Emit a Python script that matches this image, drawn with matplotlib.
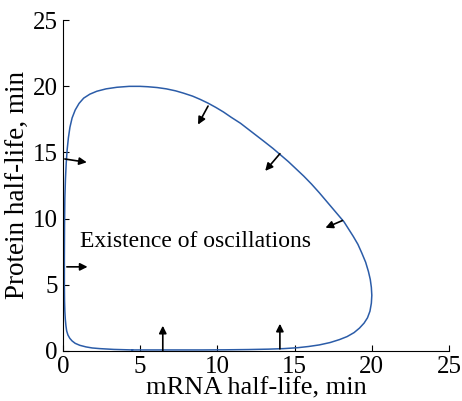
import numpy as np
import matplotlib
matplotlib.use("Agg")
import matplotlib.pyplot as plt

plt.rcParams["font.family"] = ["Liberation Serif", "DejaVu Serif"]

# boundary of the oscillation region (mRNA half-life, protein half-life)
mrna = [4.5, 3.3, 2.4, 1.9, 1.5, 1.1, 0.8, 0.6, 0.45, 0.33, 0.25, 0.2, 0.16, 0.13,
        0.11, 0.1, 0.1, 0.11, 0.13, 0.17, 0.22, 0.28, 0.36, 0.46, 0.6, 0.8, 1.05,
        1.35, 1.75, 2.2, 2.8, 3.5, 4.3, 5.0, 5.5, 6.1, 6.7, 7.3, 7.8, 8.4, 8.9, 9.4,
        9.9, 10.4, 10.9, 11.5, 12.0, 12.5, 13.0, 13.6, 14.1, 14.6, 15.1, 15.6,
        16.1, 16.6, 17.0, 17.4, 17.8, 18.2, 18.5, 18.8, 19.1, 19.35, 19.6, 19.78,
        19.9, 19.97, 20.0, 19.97, 19.88, 19.72, 19.5, 19.2, 18.85, 18.4, 17.9,
        17.3, 16.6, 15.9, 15.2, 14.3, 13.3, 12.0, 10.5, 9.0, 7.5, 6.0, 4.5]
protein = [0.07, 0.11, 0.17, 0.22, 0.3, 0.42, 0.57, 0.75, 0.95, 1.2, 1.5, 1.9, 2.4,
           3.0, 3.8, 5.0, 7.0, 9.5, 11.5, 13.0, 14.2, 15.2, 16.1, 16.9, 17.6, 18.2,
           18.7, 19.1, 19.4, 19.62, 19.8, 19.92, 19.99, 19.99, 19.96, 19.9, 19.8,
           19.65, 19.48, 19.25, 19.0, 18.72, 18.4, 18.05, 17.65, 17.2, 16.75, 16.3,
           15.85, 15.3, 14.8, 14.3, 13.75, 13.2, 12.6, 11.95, 11.4, 10.85, 10.3,
           9.75, 9.2, 8.65, 8.05, 7.4, 6.7, 6.0, 5.4, 4.8, 4.2, 3.6, 3.0, 2.5, 2.1,
           1.72, 1.38, 1.08, 0.85, 0.63, 0.45, 0.33, 0.24, 0.17, 0.13, 0.1, 0.08,
           0.07, 0.07, 0.07, 0.07]

# arrows pointing into the region: tail -> head
arrow_tail = [(0.13, 14.5), (0.26, 6.35), (6.47, 0.0), (14.05, 0.15),
              (18.1, 9.85), (14.05, 14.9), (9.4, 18.5)]
arrow_head = [(1.55, 14.25), (1.6, 6.35), (6.47, 1.9), (14.05, 2.05),
              (17.0, 9.3), (13.1, 13.6), (8.75, 17.1)]

fig = plt.figure(figsize=(4.62, 4.01), dpi=100)
ax = fig.add_axes([0.136, 0.125, 0.836, 0.825])

ax.plot(mrna, protein, color="#2b5ca8", lw=1.1)

for t, h in zip(arrow_tail, arrow_head):
    ax.annotate("", xy=h, xytext=t,
                arrowprops=dict(arrowstyle="-|>", color="black", lw=1.2,
                                mutation_scale=11, shrinkA=0, shrinkB=0))

ax.text(1.1, 8.26, "Existence of oscillations", fontsize=17, va="center")

ax.set_xlim(0, 25)
ax.set_ylim(0, 25)
ax.set_xticks([0, 5, 10, 15, 20, 25])
ax.set_yticks([0, 5, 10, 15, 20, 25])
ax.tick_params(direction="in", labelsize=18, length=4)
ax.spines["top"].set_visible(False)
ax.spines["right"].set_visible(False)
ax.set_xlabel("mRNA half-life, min", fontsize=19, labelpad=0)
ax.set_ylabel("Protein half-life, min", fontsize=19.5, labelpad=2)

fig.savefig("out.png", dpi=100)
